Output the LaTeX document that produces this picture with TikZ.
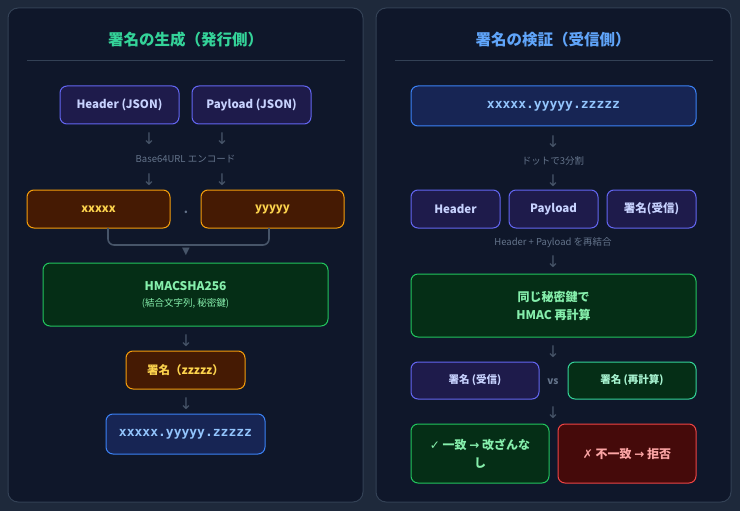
\documentclass[tikz,border=0pt]{standalone}
\usepackage{fontspec}
\setmainfont{Noto Sans CJK JP}
\newfontfamily\symfont{DejaVu Sans}
\newfontfamily\codefont{DejaVu Sans Mono}

\definecolor{pagebg}{HTML}{1E293B}
\definecolor{panelbg}{HTML}{0F172A}
\definecolor{panelline}{HTML}{334155}
\definecolor{arrowgray}{HTML}{475569}
\definecolor{labelgray}{HTML}{64748B}
\definecolor{indigoline}{HTML}{6366F1}
\definecolor{indigobg}{HTML}{1E1B4B}
\definecolor{indigotext}{HTML}{C7D2FE}
\definecolor{amberline}{HTML}{F59E0B}
\definecolor{amberbg}{HTML}{451A03}
\definecolor{ambertext}{HTML}{FCD34D}
\definecolor{greenline}{HTML}{22C55E}
\definecolor{greenbg}{HTML}{052E16}
\definecolor{greentext}{HTML}{86EFAC}
\definecolor{emeraldline}{HTML}{34D399}
\definecolor{emeraldtext}{HTML}{A7F3D0}
\definecolor{blueline}{HTML}{3B82F6}
\definecolor{bluebg}{HTML}{172554}
\definecolor{bluetext}{HTML}{93C5FD}
\definecolor{titleblue}{HTML}{60A5FA}
\definecolor{redline}{HTML}{EF4444}
\definecolor{redbg}{HTML}{450A0A}
\definecolor{redtext}{HTML}{FCA5A5}

\begin{document}
\begin{tikzpicture}[x=1pt, y=-1pt,
  panel/.style={draw=panelline, fill=panelbg, rounded corners=10pt, line width=1pt},
  title/.style={font=\fontsize{15.5}{17}\selectfont\bfseries},
  sep/.style={draw=panelline, line width=1pt},
  box/.style={rounded corners=7pt, line width=1pt, align=center, inner sep=0pt},
  partbox/.style={box, draw=indigoline, fill=indigobg, text=indigotext, font=\fontsize{11.5}{14}\selectfont\bfseries},
  encbox/.style={box, draw=amberline, fill=amberbg, text=ambertext, font=\fontsize{11.5}{14}\selectfont\bfseries},
  hashbox/.style={box, draw=greenline, fill=greenbg, text=greentext, font=\fontsize{12}{18}\selectfont\bfseries},
  tokbox/.style={box, draw=blueline, fill=bluebg, text=bluetext, font=\fontsize{13}{15}\selectfont\codefont\bfseries},
  down/.style={text=arrowgray, font=\fontsize{16}{16}\selectfont\symfont, inner sep=0pt},
  note/.style={text=labelgray, font=\fontsize{9.5}{11}\selectfont, inner sep=0pt},
  brk/.style={draw=arrowgray, line width=1.6pt, rounded corners=6pt}
]
  \fill[pagebg] (0,0) rectangle (740,511);

  % --- 発行側 ---
  \draw[panel] (8,8) rectangle (363,502);
  \node[title, text=emeraldline] (ltitle) at (185.5,40) {署名の生成（発行側）};
  \draw[sep] (27,61) -- (345,61);

  \node[partbox, minimum width=119pt, minimum height=38pt] (hdr) at (119.5,105) {Header (JSON)};
  \node[partbox, minimum width=119pt, minimum height=38pt] (pay) at (251.5,105) {Payload (JSON)};
  \node[down] (d1) at (149,139) {↓};
  \node[down] (d2) at (222,139) {↓};
  \node[note] (b64) at (185.5,159) {Base64URL エンコード};
  \node[down] (d3) at (149,180) {↓};
  \node[down] (d4) at (222,180) {↓};

  \node[encbox, minimum width=143pt, minimum height=38pt] (xb) at (98.5,209) {xxxxx};
  \node[text=labelgray, font=\fontsize{12}{12}\selectfont\bfseries] (dot) at (186,212) {.};
  \node[encbox, minimum width=143pt, minimum height=38pt] (yb) at (272.5,209) {yyyyy};

  \coordinate (jl) at (108,228);
  \coordinate (jr) at (269,228);
  \draw[brk] (jl) -- (108,245) -- (269,245) -- (jr);
  \node[text=arrowgray, font=\fontsize{10}{10}\selectfont\symfont, inner sep=0pt] (tri) at (186,252) {▼};

  \node[hashbox, minimum width=285pt, minimum height=63pt] (hmac) at (185.5,294.5)
    {HMACSHA256\\[-2pt]{\fontsize{9.5}{11}\selectfont\mdseries (結合文字列, 秘密鍵)}};
  \node[down] (d5) at (186,341) {↓};
  \node[encbox, minimum width=119pt, minimum height=38pt] (sig) at (185.5,370) {署名（zzzzz）};
  \node[down] (d6) at (186,404) {↓};
  \node[tokbox, minimum width=159pt, minimum height=40pt] (tok) at (185.5,434) {xxxxx.yyyyy.zzzzz};

  % --- 受信側 ---
  \draw[panel] (376,8) rectangle (731,502);
  \node[title, text=titleblue] (rtitle) at (553,40) {署名の検証（受信側）};
  \draw[sep] (395,61) -- (713,61);

  \node[tokbox, minimum width=285pt, minimum height=40pt] (rtok) at (553.5,106) {xxxxx.yyyyy.zzzzz};
  \node[down] (r1) at (553,142) {↓};
  \node[note] (split) at (553,161) {ドットで3分割};
  \node[down] (r2) at (553,181) {↓};

  \node[partbox, minimum width=89pt, minimum height=38pt] (rh) at (455.5,209) {Header};
  \node[partbox, minimum width=89pt, minimum height=38pt] (rp) at (553.5,209) {Payload};
  \node[partbox, minimum width=89pt, minimum height=38pt] (rs) at (651.5,209) {署名(受信)};
  \node[note] (join) at (553,243) {Header + Payload を再結合};
  \node[down] (r3) at (553,262) {↓};

  \node[hashbox, minimum width=285pt, minimum height=63pt] (recalc) at (553.5,305.5) {同じ秘密鍵で\\HMAC 再計算};
  \node[down] (r4) at (553,352) {↓};

  \node[partbox, minimum width=128pt, minimum height=37pt, font=\fontsize{10.5}{12}\selectfont\bfseries] (cmpa) at (475,380.5) {署名 (受信)};
  \node[text=labelgray, font=\fontsize{10}{12}\selectfont\bfseries] (vs) at (553,382) {vs};
  \node[box, draw=emeraldline, fill=greenbg, text=emeraldtext, minimum width=128pt, minimum height=37pt, font=\fontsize{10.5}{12}\selectfont\bfseries] (cmpb) at (632,380.5) {署名 (再計算)};
  \node[down] (r5) at (553,413) {↓};

  \node[box, draw=greenline, fill=greenbg, text=greentext, minimum width=138pt, minimum height=59pt, font=\fontsize{12}{18}\selectfont\bfseries] (ok) at (480,453.5)
    {{\symfont ✓} 一致 {\symfont →} 改ざんな\\し};
  \node[box, draw=redline, fill=redbg, text=redtext, minimum width=138pt, minimum height=59pt, font=\fontsize{12}{18}\selectfont\bfseries] (ng) at (627,453.5)
    {{\symfont ✗} 不一致 {\symfont →} 拒否};
\end{tikzpicture}
\end{document}
